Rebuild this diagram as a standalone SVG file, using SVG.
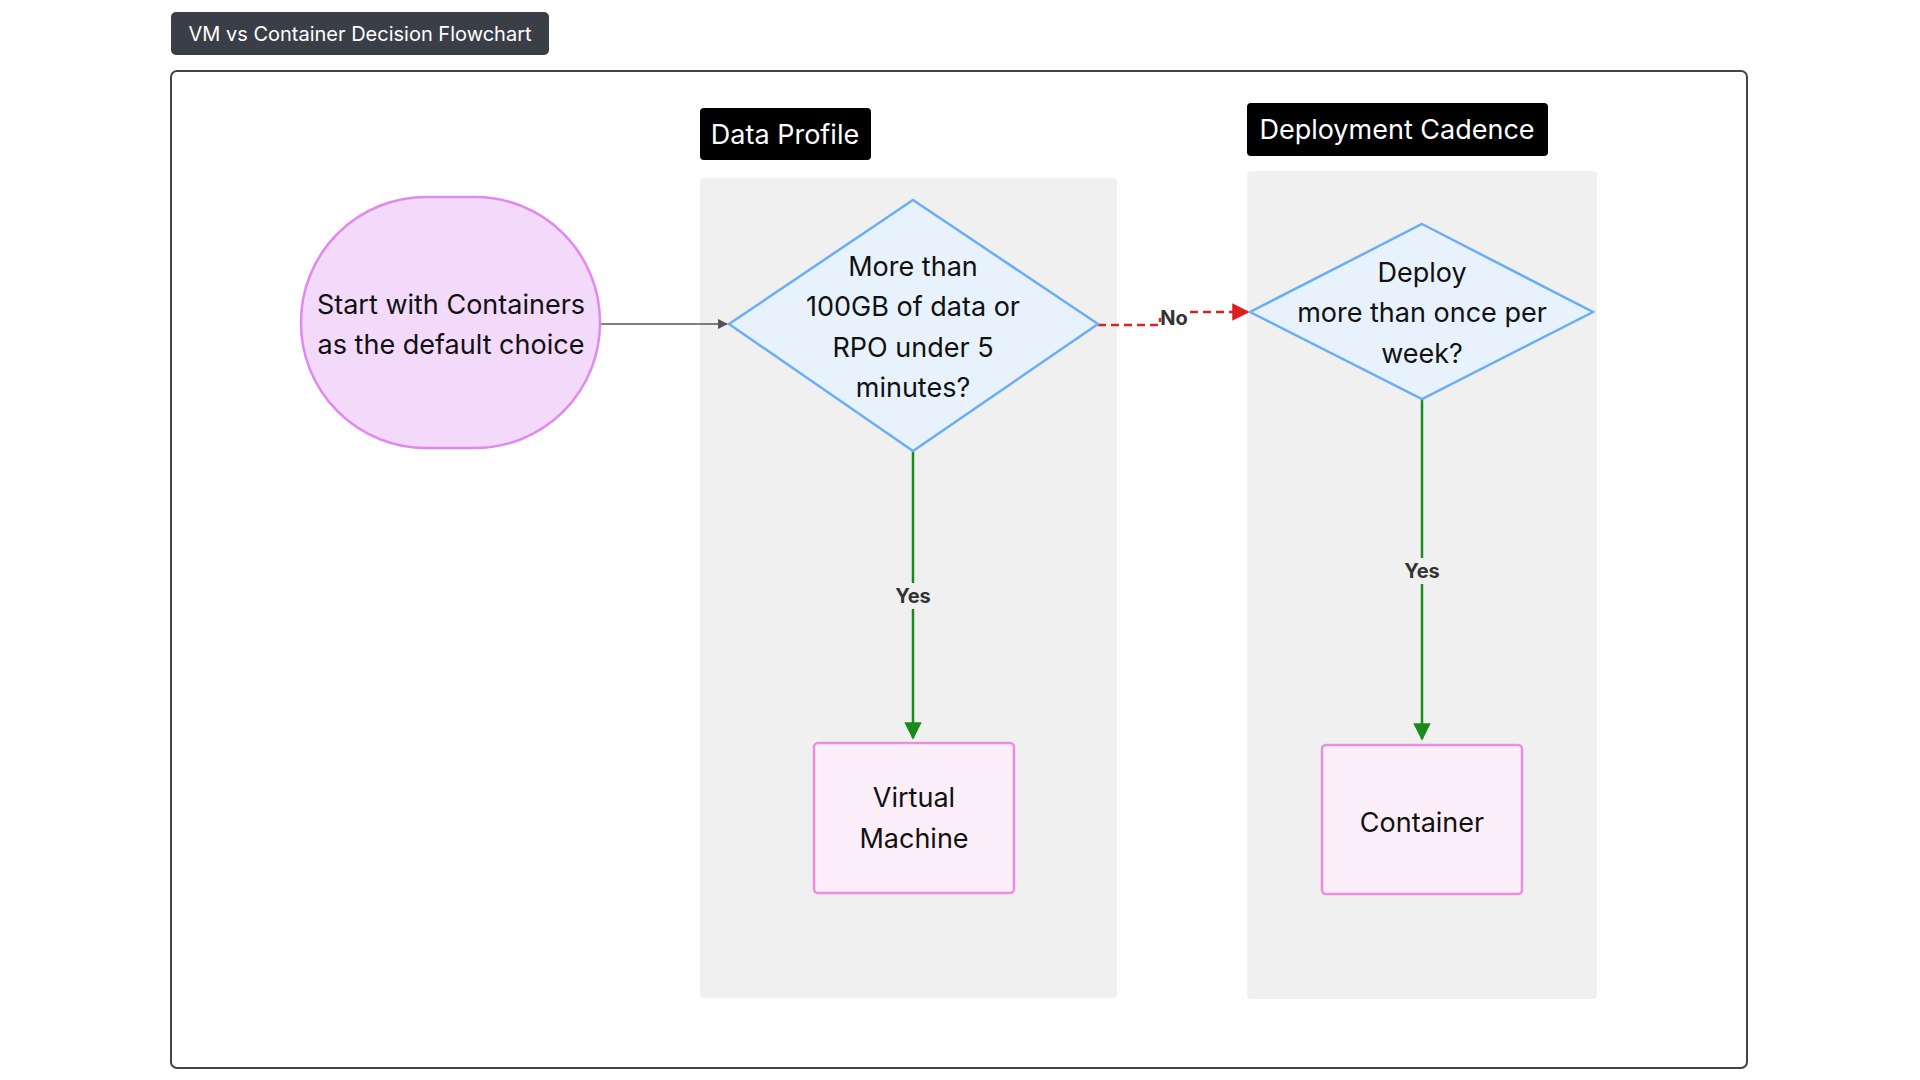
<svg xmlns="http://www.w3.org/2000/svg" width="1920" height="1080" viewBox="0 0 1920 1080">
<style>
text{font-family:Inter,"Liberation Sans",sans-serif;}
.n{font-size:27px;fill:#111;text-anchor:middle;dominant-baseline:central}
.lane{fill:#f0f0f0}
.lt{font-size:27px;fill:#fff;text-anchor:middle;dominant-baseline:central}
.el{font-size:20px;font-weight:bold;fill:#333;text-anchor:middle;dominant-baseline:central}
.box{fill:#fdeffa;stroke:#f08ce0;stroke-width:2.5}
.dia{fill:#e8f2fd;stroke:#6aaef5;stroke-width:2.5}
</style>
<defs>
<marker id="ag" viewBox="0 0 10 10" refX="9" refY="5" markerWidth="7" markerHeight="7" orient="auto"><path d="M0,0L10,5L0,10z" fill="#555"/></marker>
<marker id="ar" viewBox="0 0 10 10" refX="9" refY="5" markerWidth="7" markerHeight="7" orient="auto"><path d="M0,0L10,5L0,10z" fill="#e02020"/></marker>
<marker id="agr" viewBox="0 0 10 10" refX="9" refY="5" markerWidth="7" markerHeight="7" orient="auto"><path d="M0,0L10,5L0,10z" fill="#1a8a1a"/></marker>
</defs>
<rect width="1920" height="1080" fill="#fff"/>
<g id="title"><rect x="171" y="12" width="378" height="43" rx="5" fill="#3a3f47"/><text x="360" y="34" font-size="20" fill="#fff" text-anchor="middle" dominant-baseline="central">VM vs Container Decision Flowchart</text></g>
<rect x="171" y="71" width="1576" height="997" rx="6" fill="none" stroke="#444" stroke-width="2"/>
<g id="lane-data"><rect class="lane" x="700" y="178" width="417" height="820" rx="4"/><rect x="700" y="108" width="171" height="52" rx="4" fill="#000"/><text class="lt" x="785" y="134">Data Profile</text></g>
<g id="lane-deploy"><rect class="lane" x="1247" y="171" width="350" height="828" rx="4"/><rect x="1247" y="103" width="301" height="53" rx="4" fill="#000"/><text class="lt" x="1397" y="129">Deployment Cadence</text></g>
<g id="connectors">
<line x1="600" y1="324" x2="727" y2="324" stroke="#555" stroke-width="1.5" marker-end="url(#ag)"/>
<polyline points="1098,325 1160,325 1160,318" fill="none" stroke="#e02020" stroke-width="2.5" stroke-dasharray="8,5"/>
<polyline points="1190,312 1248,312" fill="none" stroke="#e02020" stroke-width="2.5" stroke-dasharray="8,5" marker-end="url(#ar)"/>
<text class="el" x="1174" y="318">No</text>
<line x1="913" y1="451" x2="913" y2="738" stroke="#1a8a1a" stroke-width="2.5" marker-end="url(#agr)"/>
<rect x="890" y="583" width="46" height="26" fill="#f0f0f0"/><text class="el" x="913" y="596">Yes</text>
<line x1="1422" y1="399" x2="1422" y2="739" stroke="#1a8a1a" stroke-width="2.5" marker-end="url(#agr)"/>
<rect x="1399" y="558" width="46" height="26" fill="#f0f0f0"/><text class="el" x="1422" y="571">Yes</text>
</g>
<g id="start"><rect x="301" y="197" width="299" height="251" rx="125" fill="#f3d9fa" stroke="#e08af0" stroke-width="2.5"/><text class="n" x="451" y="304">Start with Containers</text><text class="n" x="451" y="344">as the default choice</text></g>
<g id="q1"><polygon class="dia" points="913,200 1098,324 913,451 729,324"/><text class="n" x="913" y="266">More than</text><text class="n" x="913" y="306">100GB of data or</text><text class="n" x="913" y="347">RPO under 5</text><text class="n" x="913" y="387">minutes?</text></g>
<g id="q2"><polygon class="dia" points="1422,224 1593,312 1422,399 1250,312"/><text class="n" x="1422" y="272">Deploy</text><text class="n" x="1422" y="312">more than once per</text><text class="n" x="1422" y="353">week?</text></g>
<g id="vm"><rect class="box" x="814" y="743" width="200" height="150" rx="4"/><text class="n" x="914" y="797">Virtual</text><text class="n" x="914" y="838">Machine</text></g>
<g id="container"><rect class="box" x="1322" y="745" width="200" height="149" rx="4"/><text class="n" x="1422" y="822">Container</text></g>
</svg>
